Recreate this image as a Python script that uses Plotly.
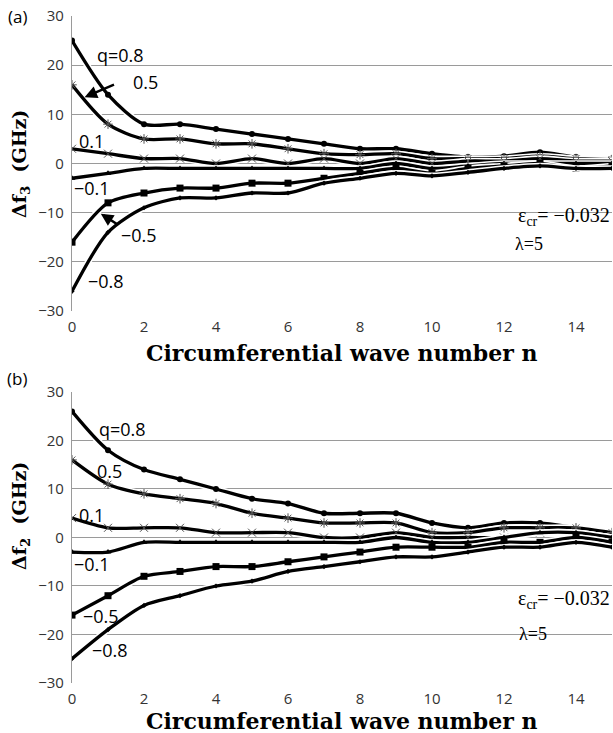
import plotly.graph_objects as go

n = list(range(16))

# Panel (a): Δf3
a_q08 = [25, 14, 8, 8, 7, 6, 5, 4, 3, 3, 2, 1.3, 1.5, 2.3, 1.3, 1]
a_q05 = [16, 8, 5, 5, 4, 4, 3, 2, 1.8, 2, 1, 1, 1, 1.5, 1, 0.8]
a_q01 = [3, 2, 1, 1, 0, 1, 0, 1, 0, 1, 0, 0.5, 0.5, 1, 0.5, 0.5]
a_qm01 = [-3, -2, -1, -1, -1, -1, -1, -1, -1, 0, -1, -0.5, 0, 0, 0, 0]
a_qm05 = [-16, -8, -6, -5, -5, -4, -4, -3, -2, -1, -2, -1, -0.5, 0, -1, -0.5]
a_qm08 = [-26, -14, -9, -7, -7, -6, -6, -4, -3, -2, -2.5, -1.8, -1, -0.5, -1, -1]

# Panel (b): Δf2
b_q08 = [26, 18, 14, 12, 10, 8, 7, 5, 5, 5, 3, 2, 3, 3, 2, 1]
b_q05 = [16, 11, 9, 8, 7, 5, 4, 3, 3, 3, 1, 1, 2, 2, 2, 1]
b_q01 = [4, 2, 2, 2, 1, 1, 1, 0, 0, 1, 0, 0, 0, 1, 1, 0]
b_qm01 = [-3, -3, -1, -1, -1, -1, -1, -1, -1, 0, -1, -1, 0, 1, 1, 0]
b_qm05 = [-16, -12, -8, -7, -6, -6, -5, -4, -3, -2, -2, -2, -1, -1, 0, -1]
b_qm08 = [-25, -19, -14, -12, -10, -9, -7, -6, -5, -4, -4, -3, -2, -2, -1, -2]

series_a = [a_q08, a_q05, a_q01, a_qm01, a_qm05, a_qm08]
series_b = [b_q08, b_q05, b_q01, b_qm01, b_qm05, b_qm08]
markers = [
    dict(symbol="circle", size=6, color="black"),
    dict(symbol="asterisk-open", size=8, color="#555", line=dict(width=1, color="#555")),
    dict(symbol="x-thin-open", size=8, color="#555", line=dict(width=1, color="#555")),
    dict(symbol="triangle-up", size=6, color="black"),
    dict(symbol="square", size=7, color="black"),
    dict(symbol="diamond", size=4, color="black"),
]

fig = go.Figure()

def add_panel(series, xa, ya):
    for s, m in zip(series, markers):
        fig.add_trace(go.Scatter(x=n, y=s, mode="lines", xaxis=xa, yaxis=ya,
                                 line=dict(color="white", width=6.5, shape="spline", smoothing=0.8),
                                 hoverinfo="skip", showlegend=False))
        fig.add_trace(go.Scatter(x=n, y=s, mode="lines+markers", xaxis=xa, yaxis=ya,
                                 line=dict(color="black", width=3.3, shape="spline", smoothing=0.8),
                                 marker=m, showlegend=False))

add_panel(series_a, "x", "y")
add_panel(series_b, "x2", "y2")

sans = "Open Sans"
serif = "Liberation Serif"
title_font = "DejaVu Serif"
tickfont = dict(family=sans, size=15, color="#333")
xcommon = dict(range=[0, 15], tickvals=list(range(0, 15, 2)), showgrid=False, zeroline=False,
               showline=False, ticks="", tickfont=tickfont, ticklabelstandoff=5)
ycommon = dict(range=[-30, 30], dtick=10, showgrid=True, gridcolor="#9a9a9a", gridwidth=1.2,
               zeroline=False, showline=True, linecolor="#9a9a9a", linewidth=1.2, ticks="",
               tickfont=tickfont, ticklabelstandoff=4)

W, H = 613, 733
ml, mr, mt, mb = 72, 1, 16, 50
pw, ph = W - ml - mr, H - mt - mb

fig.update_layout(
    width=W, height=H,
    margin=dict(l=ml, r=mr, t=mt, b=mb),
    plot_bgcolor="white", paper_bgcolor="white",
    xaxis=dict(domain=[0, 1], anchor="y", **xcommon),
    yaxis=dict(domain=[0.5577, 1], anchor="x", **ycommon),
    xaxis2=dict(domain=[0, 1], anchor="y2", **xcommon),
    yaxis2=dict(domain=[0, 0.4363], anchor="x2", **ycommon),
)

def txt(x, y, t, xr, yr, size=18, font=sans, **kw):
    fig.add_annotation(x=x, y=y, xref=xr, yref=yr, text=t, showarrow=False,
                       font=dict(family=font, size=size, color="black"), **kw)

def arrow(x, y, ax, ay, xr, yr):
    fig.add_annotation(x=x, y=y, ax=ax, ay=ay, xref=xr, yref=yr, axref=xr, ayref=yr,
                       showarrow=True, arrowhead=2, arrowsize=1, arrowwidth=2.5,
                       arrowcolor="black", text=" ")

# Panel (a) labels
txt(1.35, 22, "q=0.8", "x", "y")
txt(2.05, 16.5, "0.5", "x", "y")
txt(0.55, 4.5, "0.1", "x", "y")
txt(0.55, -5, "−0.1", "x", "y")
txt(1.85, -14.5, "−0.5", "x", "y")
txt(0.95, -23.8, "−0.8", "x", "y")
arrow(0.35, 13.5, 1.25, 16.3, "x", "y")
arrow(0.8, -10.2, 1.35, -12.8, "x", "y")
txt(15, -10.8, "ε<sub>cr</sub>= −0.032", "x", "y", size=20, font=serif, xanchor="right")
txt(12.25, -16.3, "λ=5", "x", "y", size=18, font=serif, xanchor="left")

# Panel (b) labels
txt(1.4, 22.4, "q=0.8", "x2", "y2")
txt(1.05, 13.8, "0.5", "x2", "y2")
txt(0.55, 4.7, "0.1", "x2", "y2")
txt(0.55, -5.4, "−0.1", "x2", "y2")
txt(0.8, -16.1, "−0.5", "x2", "y2")
txt(1.05, -23.2, "−0.8", "x2", "y2")
txt(15, -12.8, "ε<sub>cr</sub>= −0.032", "x2", "y2", size=20, font=serif, xanchor="right")
txt(12.35, -19.8, "λ=5", "x2", "y2", size=18, font=serif, xanchor="left")

def pa(xpx, ypx, t, size, font, bold=False, angle=0, xanchor="center"):
    fig.add_annotation(x=(xpx - ml) / pw, y=(H - mb - ypx) / ph, xref="paper", yref="paper",
                       text=("<b>%s</b>" % t) if bold else t, showarrow=False, textangle=angle,
                       xanchor=xanchor, yanchor="middle",
                       font=dict(family=font, size=size, color="black"))

pa(342, 353, "Circumferential wave number n", 22, title_font, bold=True)
pa(342, 721, "Circumferential wave number n", 22, title_font, bold=True)
pa(20, 164, "Δf<sub>3</sub>  (GHz)", 19, title_font, bold=True, angle=-90)
pa(20, 516, "Δf<sub>2</sub>  (GHz)", 19, title_font, bold=True, angle=-90)
pa(17, 16, "(a)", 17, sans)
pa(17, 378, "(b)", 17, sans)

fig.write_html("out.html")
